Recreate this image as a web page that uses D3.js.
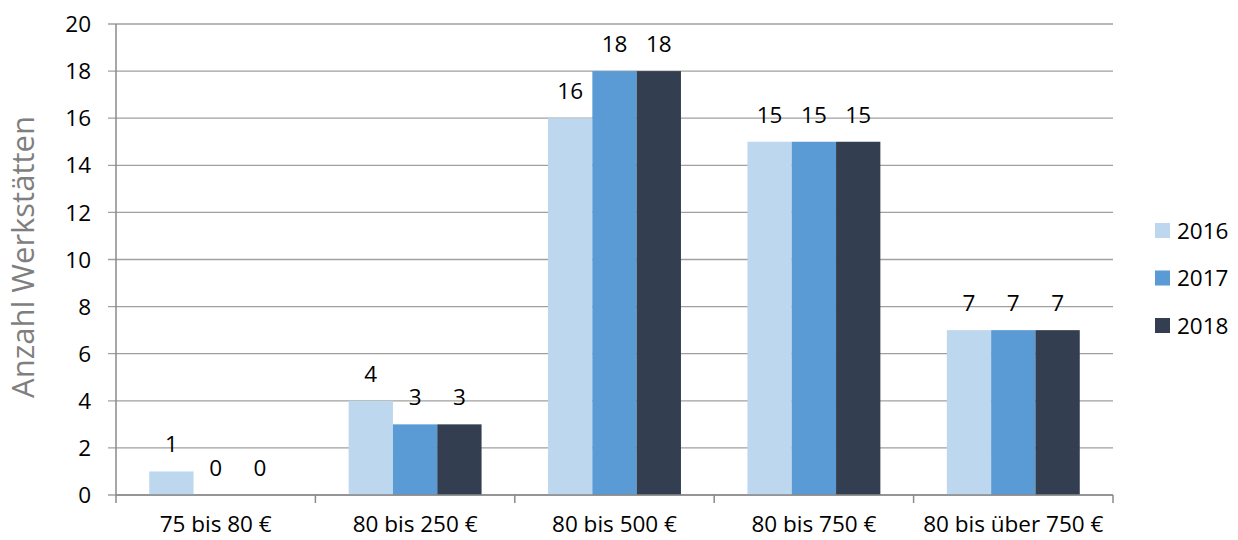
<!DOCTYPE html>
<html>
<head>
<meta charset="utf-8">
<script src="https://cdn.jsdelivr.net/npm/d3@7"></script>
<style>
  body { margin: 0; background: #fff; }
  text { font-family: "Open Sans", Lato, sans-serif; }
</style>
</head>
<body>
<svg width="1238" height="540"></svg>
<script>
const categories = ["75 bis 80 €", "80 bis 250 €", "80 bis 500 €", "80 bis 750 €", "80 bis über 750 €"];
const years = ["2016", "2017", "2018"];
const values2016 = [1, 4, 16, 15, 7];
const values2017 = [0, 3, 18, 15, 7];
const values2018 = [0, 3, 18, 15, 7];
const yTicks = [0, 2, 4, 6, 8, 10, 12, 14, 16, 18, 20];
const colors = ["#BDD7EE", "#5B9BD5", "#333F50"];

const series = [values2016, values2017, values2018];

const svg = d3.select("svg");

const plotLeft = 116, plotRight = 1113, plotTop = 24, plotBottom = 495;
const fs = 22.5;

const x = d3.scaleBand()
    .domain(categories)
    .range([plotLeft, plotRight])
    .paddingInner(0)
    .paddingOuter(0);

const barPad = x.bandwidth() / (3 + 1.5) * 0.75;
const x1 = d3.scaleBand()
    .domain(years)
    .range([barPad, x.bandwidth() - barPad]);

const y = d3.scaleLinear()
    .domain([0, 20])
    .range([plotBottom, plotTop]);

// gridlines
svg.append("g")
    .selectAll("line")
    .data(yTicks)
    .join("line")
    .attr("x1", plotLeft - 8)
    .attr("x2", plotRight)
    .attr("y1", d => y(d))
    .attr("y2", d => y(d))
    .attr("stroke", "#a0a0a0")
    .attr("stroke-width", 1.3);

// y tick labels
svg.append("g")
    .selectAll("text")
    .data(yTicks)
    .join("text")
    .attr("x", 91)
    .attr("y", d => y(d))
    .attr("dy", "0.36em")
    .attr("text-anchor", "end")
    .attr("font-size", fs)
    .attr("fill", "#000")
    .text(d => d);

// bars
const groups = svg.append("g")
    .selectAll("g")
    .data(categories)
    .join("g")
    .attr("transform", d => `translate(${x(d)},0)`);

groups.selectAll("rect")
    .data((d, i) => years.map((yr, j) => ({ yr, v: series[j][i], j })))
    .join("rect")
    .attr("x", d => x1(d.yr))
    .attr("width", x1.bandwidth())
    .attr("y", d => y(d.v))
    .attr("height", d => plotBottom - y(d.v))
    .attr("fill", d => colors[d.j]);

groups.selectAll("text")
    .data((d, i) => years.map((yr, j) => ({ yr, v: series[j][i], j })))
    .join("text")
    .attr("x", d => x1(d.yr) + x1.bandwidth() / 2)
    .attr("y", d => y(d.v) - 19)
    .attr("text-anchor", "middle")
    .attr("font-size", fs)
    .attr("fill", "#000")
    .text(d => d.v);

// y axis line
svg.append("line")
    .attr("x1", plotLeft).attr("x2", plotLeft)
    .attr("y1", plotTop).attr("y2", plotBottom)
    .attr("stroke", "#8a8a8a")
    .attr("stroke-width", 1.5);

// x axis
const xAxis = svg.append("g");
xAxis.append("line")
    .attr("x1", plotLeft).attr("x2", plotRight)
    .attr("y1", plotBottom).attr("y2", plotBottom)
    .attr("stroke", "#8a8a8a")
    .attr("stroke-width", 1.5);

const tickPos = categories.map(c => x(c)).concat([plotRight]);
xAxis.selectAll(".tick")
    .data(tickPos)
    .join("line")
    .attr("class", "tick")
    .attr("x1", d => d).attr("x2", d => d)
    .attr("y1", plotBottom).attr("y2", plotBottom + 8)
    .attr("stroke", "#8a8a8a")
    .attr("stroke-width", 1.5);

xAxis.selectAll("text")
    .data(categories)
    .join("text")
    .attr("x", d => x(d) + x.bandwidth() / 2)
    .attr("y", 532)
    .attr("text-anchor", "middle")
    .attr("font-size", fs)
    .attr("fill", "#000")
    .text(d => d);

// y axis title
svg.append("text")
    .attr("transform", "translate(34,257) rotate(-90)")
    .attr("text-anchor", "middle")
    .attr("font-size", 31)
    .attr("fill", "#7f7f7f")
    .text("Anzahl Werkstätten");

// legend
const legend = svg.append("g")
    .selectAll("g")
    .data(years)
    .join("g")
    .attr("transform", (d, i) => `translate(1155,${223 + i * 47.5})`);

legend.append("rect")
    .attr("width", 15)
    .attr("height", 15)
    .attr("fill", (d, i) => colors[i]);

legend.append("text")
    .attr("x", 22)
    .attr("y", 7.5)
    .attr("dy", "0.36em")
    .attr("font-size", fs)
    .attr("fill", "#000")
    .text(d => d);
</script>
</body>
</html>
